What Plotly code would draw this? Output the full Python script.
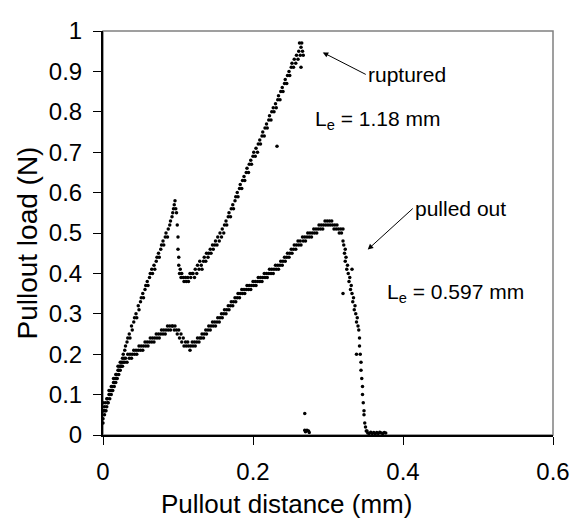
import plotly.graph_objects as go

# Le = 1.18 mm (ruptured)
x_a = [0.000, 0.000, 0.001, 0.002, 0.003, 0.005, 0.006, 0.008, 0.009, 0.011, 0.012, 0.014, 0.015, 0.017, 0.018,
       0.020, 0.021, 0.023, 0.024, 0.026, 0.027, 0.029, 0.030, 0.032, 0.033, 0.035, 0.036, 0.038, 0.039,
       0.041, 0.042, 0.044, 0.045, 0.047, 0.048, 0.050, 0.051, 0.053, 0.054, 0.056, 0.057, 0.059, 0.060,
       0.062, 0.063, 0.065, 0.066, 0.068, 0.069, 0.071, 0.072, 0.074, 0.075, 0.077, 0.078, 0.080, 0.081,
       0.083, 0.084, 0.086, 0.087, 0.089, 0.090, 0.092, 0.093, 0.094, 0.095, 0.096, 0.097, 0.098,
       0.099, 0.100, 0.100, 0.101, 0.101, 0.102, 0.103, 0.104, 0.105, 0.107, 0.108, 0.110, 0.111, 0.113,
       0.114, 0.116, 0.117, 0.119,
       0.120, 0.122, 0.123, 0.125, 0.126, 0.128, 0.129, 0.131, 0.132, 0.134, 0.135, 0.137, 0.138, 0.140,
       0.141, 0.143, 0.144, 0.146, 0.147, 0.149, 0.150, 0.152, 0.153, 0.155, 0.156, 0.158, 0.159, 0.161,
       0.162, 0.164, 0.165, 0.167, 0.168, 0.170, 0.171, 0.173, 0.174, 0.176, 0.177, 0.179, 0.180, 0.182,
       0.183, 0.185, 0.186, 0.188, 0.189, 0.191, 0.192, 0.194, 0.195, 0.197, 0.198, 0.200, 0.201, 0.203,
       0.204, 0.206, 0.207, 0.209, 0.210, 0.212, 0.213, 0.215, 0.216, 0.218, 0.219, 0.221, 0.222, 0.224,
       0.225, 0.227, 0.228, 0.230, 0.231, 0.233, 0.234, 0.236, 0.237, 0.239, 0.240, 0.242, 0.243, 0.245,
       0.246, 0.248, 0.249, 0.251, 0.252, 0.254, 0.255, 0.257, 0.258, 0.260, 0.261, 0.263, 0.264, 0.265,
       0.266, 0.267, 0.262, 0.264, 0.232]
y_a = [0.04, 0.08, 0.06, 0.07, 0.06, 0.09, 0.08, 0.11, 0.10, 0.12, 0.11, 0.14, 0.13, 0.15, 0.14,
       0.17, 0.16, 0.18, 0.17, 0.19, 0.20, 0.21, 0.22, 0.23, 0.24, 0.25, 0.24, 0.27, 0.26,
       0.28, 0.29, 0.30, 0.29, 0.32, 0.31, 0.33, 0.34, 0.35, 0.34, 0.36, 0.37, 0.38, 0.37,
       0.39, 0.40, 0.41, 0.40, 0.42, 0.41, 0.43, 0.44, 0.45, 0.44, 0.46, 0.47, 0.48, 0.47,
       0.49, 0.50, 0.49, 0.51, 0.52, 0.53, 0.54, 0.55, 0.56, 0.57, 0.58, 0.56, 0.55,
       0.52, 0.49, 0.46, 0.44, 0.42, 0.40, 0.41, 0.39, 0.40, 0.39, 0.38, 0.39, 0.38, 0.39,
       0.38, 0.40, 0.39, 0.40,
       0.40, 0.39, 0.41, 0.40, 0.42, 0.41, 0.43, 0.42, 0.41, 0.43, 0.44, 0.43, 0.45, 0.44,
       0.45, 0.46, 0.45, 0.47, 0.46, 0.47, 0.48, 0.47, 0.49, 0.48, 0.50, 0.49, 0.51, 0.50,
       0.52, 0.53, 0.52, 0.54, 0.55, 0.54, 0.56, 0.57, 0.56, 0.58, 0.59, 0.60, 0.59, 0.61,
       0.62, 0.61, 0.63, 0.64, 0.63, 0.65, 0.66, 0.65, 0.67, 0.68, 0.67, 0.69, 0.70, 0.69,
       0.71, 0.70, 0.72, 0.73, 0.72, 0.74, 0.75, 0.74, 0.76, 0.77, 0.76, 0.78, 0.79, 0.78,
       0.80, 0.81, 0.80, 0.82, 0.81, 0.83, 0.84, 0.83, 0.85, 0.86, 0.85, 0.87, 0.88, 0.87,
       0.89, 0.90, 0.89, 0.91, 0.92, 0.91, 0.93, 0.92, 0.94, 0.93, 0.95, 0.94, 0.96, 0.97,
       0.95, 0.94, 0.97, 0.91, 0.715]

# Le = 0.597 mm (pulled out)
x_b = [0.000, 0.001, 0.002, 0.003, 0.004, 0.005, 0.006, 0.007, 0.008, 0.009, 0.010, 0.011, 0.012, 0.013,
       0.014, 0.015, 0.016, 0.017, 0.018, 0.019, 0.020, 0.021, 0.022, 0.023, 0.024, 0.025, 0.026, 0.027,
       0.028, 0.029, 0.030, 0.032, 0.033, 0.035, 0.036, 0.038, 0.039, 0.041, 0.042, 0.044, 0.045, 0.047,
       0.048, 0.050, 0.051, 0.053, 0.054, 0.056, 0.057, 0.059, 0.060, 0.062, 0.063, 0.065, 0.066, 0.068,
       0.069, 0.071, 0.072, 0.074, 0.075, 0.077, 0.078, 0.080, 0.081, 0.083, 0.084, 0.086, 0.087, 0.089,
       0.090, 0.092, 0.093, 0.095, 0.096, 0.098, 0.099, 0.101, 0.102, 0.104, 0.105, 0.107, 0.108, 0.110,
       0.111, 0.113, 0.114, 0.116, 0.117, 0.119, 0.120, 0.122, 0.123, 0.125, 0.126, 0.128, 0.129, 0.131,
       0.132, 0.134, 0.135, 0.137, 0.138, 0.140, 0.141, 0.143, 0.144, 0.146, 0.147, 0.149, 0.150, 0.152,
       0.153, 0.155, 0.156, 0.158, 0.159, 0.161, 0.162, 0.164, 0.165, 0.167, 0.168, 0.170, 0.171, 0.173,
       0.174, 0.176, 0.177, 0.179, 0.180, 0.182, 0.183, 0.185, 0.186, 0.188, 0.189, 0.191, 0.192, 0.194,
       0.195, 0.197, 0.198, 0.200, 0.201, 0.203, 0.204, 0.206, 0.207, 0.209, 0.210, 0.212, 0.213, 0.215,
       0.216, 0.218, 0.219, 0.221, 0.222, 0.224, 0.225, 0.227, 0.228, 0.230, 0.231, 0.233, 0.234, 0.236,
       0.237, 0.239, 0.240, 0.242, 0.243, 0.245, 0.246, 0.248, 0.249, 0.251, 0.252, 0.254, 0.255, 0.257,
       0.258, 0.260, 0.261, 0.263, 0.264, 0.266, 0.267, 0.269, 0.270, 0.272, 0.273, 0.275, 0.276, 0.278,
       0.279, 0.281, 0.282, 0.284, 0.285, 0.287, 0.288, 0.290, 0.291, 0.293, 0.294, 0.296, 0.297, 0.299,
       0.300, 0.302, 0.303, 0.305, 0.306, 0.308, 0.309, 0.311, 0.312, 0.314, 0.315, 0.317, 0.318, 0.320,
       0.320, 0.321, 0.322, 0.323, 0.323, 0.324, 0.325, 0.326, 0.327, 0.328, 0.329, 0.330, 0.331, 0.332,
       0.333, 0.334, 0.335, 0.336, 0.337, 0.338, 0.339, 0.340, 0.341, 0.342, 0.342, 0.343, 0.344, 0.344,
       0.345, 0.346, 0.346, 0.347, 0.348, 0.348, 0.349, 0.350, 0.351, 0.352,
       0.353, 0.355, 0.357, 0.359, 0.361, 0.363, 0.365, 0.367, 0.369, 0.371, 0.373, 0.375, 0.377,
       0.320, 0.338, 0.332,
       0.269, 0.269, 0.270, 0.272, 0.274, 0.275]
y_b = [0.03, 0.06, 0.05, 0.08, 0.06, 0.07, 0.09, 0.08, 0.10, 0.09, 0.11, 0.10, 0.12, 0.11,
       0.13, 0.12, 0.14, 0.13, 0.15, 0.14, 0.16, 0.15, 0.17, 0.16, 0.17, 0.18, 0.17, 0.18,
       0.19, 0.18, 0.19, 0.18, 0.20, 0.19, 0.20, 0.19, 0.20, 0.21, 0.20, 0.21, 0.20, 0.21,
       0.22, 0.21, 0.22, 0.21, 0.22, 0.23, 0.22, 0.23, 0.22, 0.23, 0.24, 0.23, 0.24, 0.23,
       0.24, 0.25, 0.24, 0.25, 0.24, 0.25, 0.26, 0.25, 0.26, 0.25, 0.26, 0.27, 0.26, 0.27,
       0.26, 0.27, 0.27, 0.26, 0.27, 0.26, 0.25, 0.26, 0.24, 0.25, 0.23, 0.24, 0.22, 0.23,
       0.22, 0.23, 0.22, 0.21, 0.22, 0.23, 0.22, 0.23, 0.22, 0.23, 0.24, 0.23, 0.24, 0.24,
       0.25, 0.24, 0.25, 0.26, 0.25, 0.26, 0.27, 0.26, 0.27, 0.28, 0.27, 0.28, 0.27, 0.28,
       0.29, 0.28, 0.29, 0.30, 0.29, 0.30, 0.31, 0.30, 0.31, 0.32, 0.31, 0.32, 0.33, 0.32,
       0.33, 0.34, 0.33, 0.34, 0.35, 0.34, 0.35, 0.36, 0.35, 0.36, 0.35, 0.36, 0.37, 0.36,
       0.37, 0.36, 0.37, 0.38, 0.37, 0.38, 0.37, 0.38, 0.39, 0.38, 0.39, 0.38, 0.39, 0.40,
       0.39, 0.40, 0.39, 0.40, 0.41, 0.40, 0.41, 0.40, 0.41, 0.42, 0.41, 0.42, 0.41, 0.42,
       0.43, 0.42, 0.43, 0.44, 0.43, 0.44, 0.45, 0.44, 0.45, 0.46, 0.45, 0.46, 0.47, 0.46,
       0.47, 0.48, 0.47, 0.48, 0.47, 0.49, 0.48, 0.49, 0.48, 0.49, 0.50, 0.49, 0.50, 0.49,
       0.50, 0.51, 0.50, 0.51, 0.50, 0.51, 0.52, 0.51, 0.52, 0.51, 0.52, 0.53, 0.52, 0.53,
       0.52, 0.53, 0.52, 0.53, 0.52, 0.51, 0.52, 0.51, 0.52, 0.51, 0.50, 0.51, 0.50, 0.51,
       0.48, 0.47, 0.45, 0.46, 0.43, 0.44, 0.41, 0.42, 0.40, 0.38, 0.39, 0.36, 0.37, 0.35,
       0.33, 0.34, 0.31, 0.32, 0.30, 0.28, 0.29, 0.27, 0.26, 0.24, 0.22, 0.20, 0.18, 0.16,
       0.14, 0.12, 0.10, 0.08, 0.06, 0.05, 0.03, 0.02, 0.01, 0.01,
       0.005, 0.004, 0.007, 0.004, 0.006, 0.003, 0.006, 0.004, 0.007, 0.005, 0.004, 0.006, 0.005,
       0.35, 0.20, 0.41,
       0.053, 0.012, 0.008, 0.012, 0.010, 0.006]

x_ticks = [0, 0.2, 0.4, 0.6]
y_ticks = [0, 0.1, 0.2, 0.3, 0.4, 0.5, 0.6, 0.7, 0.8, 0.9, 1]
x_title = "Pullout distance (mm)"
y_title = "Pullout load (N)"

FONT = "Arial, Liberation Sans, sans-serif"

fig = go.Figure()
for xs, ys in [(x_a, y_a), (x_b, y_b)]:
    fig.add_trace(go.Scatter(x=xs, y=ys, mode="markers", cliponaxis=False,
                             marker=dict(color="black", size=3.5), showlegend=False))

fig.add_shape(type="rect", xref="paper", yref="paper", x0=0, x1=1, y0=0, y1=1,
              line=dict(color="#808080", width=1.5), layer="below")

ann_font = dict(family=FONT, size=21, color="black")
fig.add_annotation(x=0.293, y=0.947, ax=43, ay=22, text="ruptured", showarrow=True,
                   xanchor="left", yanchor="middle", font=ann_font,
                   arrowhead=2, arrowsize=1.1, arrowwidth=1, arrowcolor="black")
fig.add_annotation(x=0.28, y=0.78, text="L<sub>e</sub> = 1.18 mm", showarrow=False,
                   xanchor="left", font=ann_font)
fig.add_annotation(x=0.353, y=0.459, ax=45, ay=-41, text="pulled out", showarrow=True,
                   xanchor="left", yanchor="middle", font=ann_font,
                   arrowhead=2, arrowsize=1.1, arrowwidth=1, arrowcolor="black")
fig.add_annotation(x=0.376, y=0.352, text="L<sub>e</sub> = 0.597 mm", showarrow=False,
                   xanchor="left", font=ann_font)

# axis titles (placed like the original, centred on the whole chart)
fig.add_annotation(xref="paper", yref="paper", x=0.407, y=-0.170, text=x_title,
                   showarrow=False, xanchor="center", yanchor="middle",
                   font=dict(family=FONT, size=26, color="black"))
fig.add_annotation(xref="paper", yref="paper", x=-0.167, y=0.476, text=y_title, textangle=-90,
                   showarrow=False, xanchor="center", yanchor="middle",
                   font=dict(family=FONT, size=28, color="black"))

fig.update_layout(
    width=572, height=515,
    margin=dict(l=95, r=27, t=9, b=88),
    paper_bgcolor="white", plot_bgcolor="white",
    font=dict(family=FONT, size=24, color="black"),
    xaxis=dict(range=[0, 0.6], tickvals=x_ticks, ticktext=[str(v) for v in x_ticks],
               showgrid=False, zeroline=False, showline=True, linecolor="black", linewidth=2,
               ticks="outside", ticklen=8, tickcolor="black", ticklabelstandoff=6,
               ticklabeloverflow="allow"),
    yaxis=dict(range=[0, 1], tickvals=y_ticks, ticktext=[str(v) for v in y_ticks],
               showgrid=False, zeroline=False, showline=True, linecolor="black", linewidth=2,
               ticks="outside", ticklen=8, tickcolor="black", ticklabelstandoff=6,
               ticklabeloverflow="allow"),
)

fig.write_html("out.html")
